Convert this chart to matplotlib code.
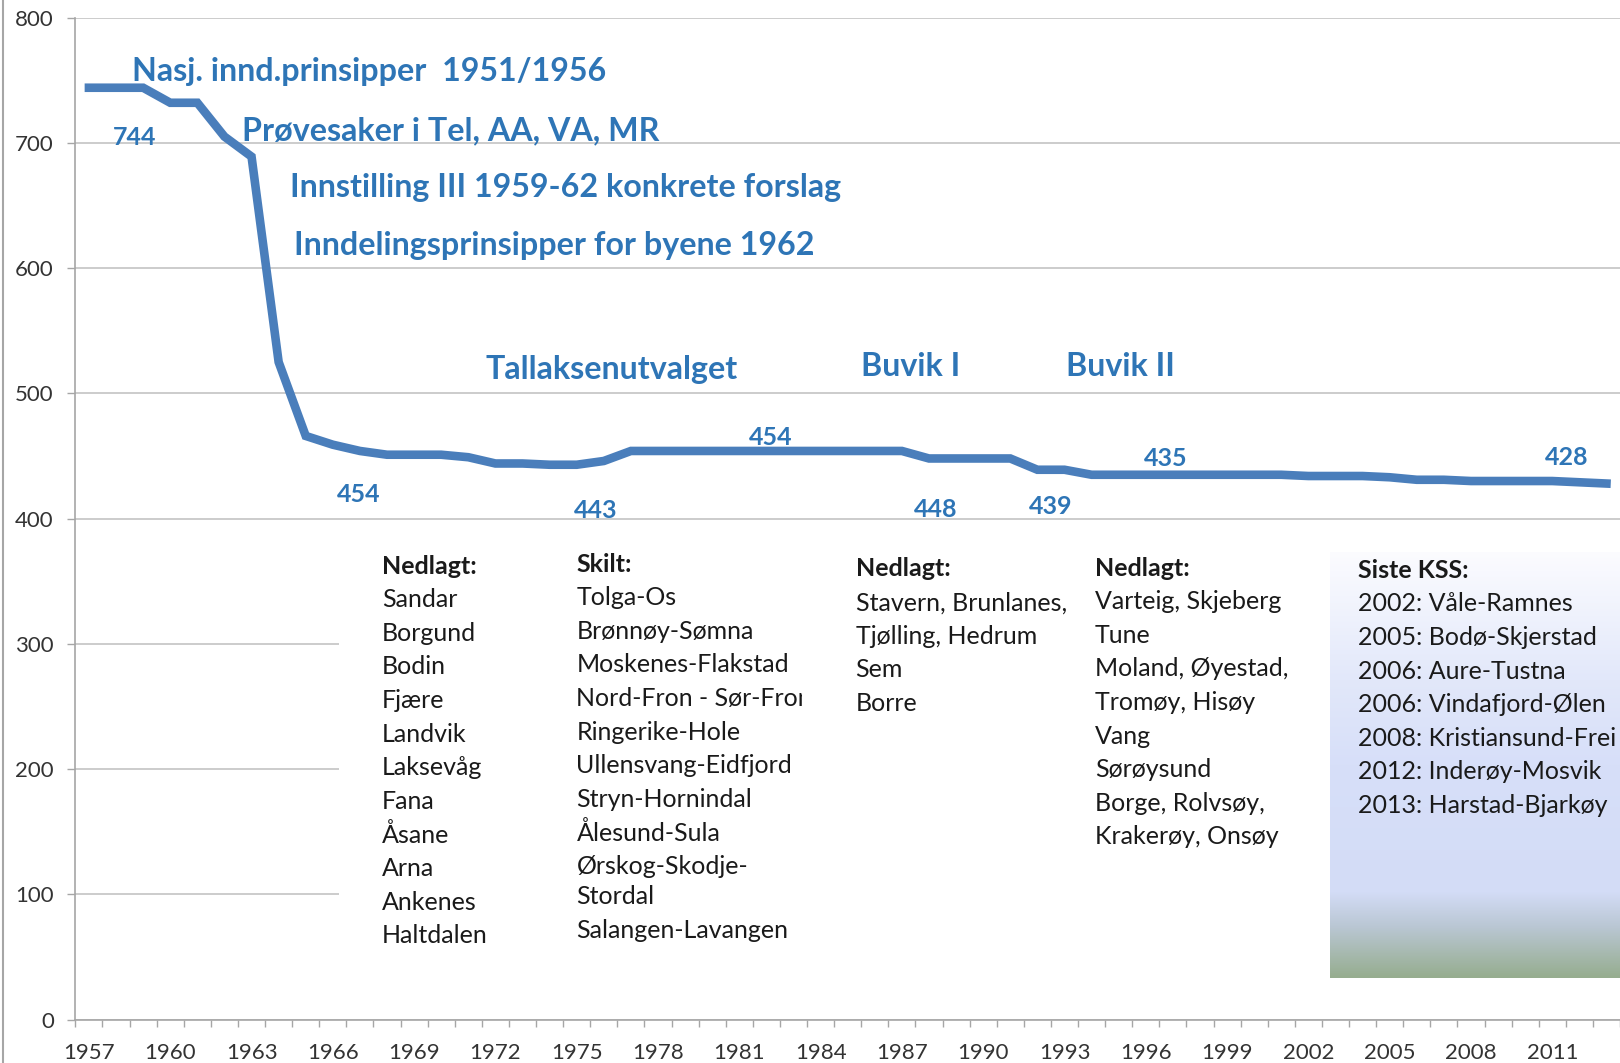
import numpy as np
import matplotlib
matplotlib.use("Agg")
import matplotlib.pyplot as plt
from matplotlib.patches import Rectangle
from matplotlib.lines import Line2D
from matplotlib.colors import LinearSegmentedColormap
from matplotlib.transforms import Bbox, TransformedBbox

# number of municipalities per year
years = list(range(1957, 2014))
counts = [744, 744, 744, 732, 732, 705, 689, 525, 466, 459,
          454, 451, 451, 451, 449, 444, 444, 443, 443, 446,
          454, 454, 454, 454, 454, 454, 454, 454, 454, 454,
          454, 448, 448, 448, 448, 439, 439, 435, 435, 435,
          435, 435, 435, 435, 435, 434, 434, 434, 433, 431,
          431, 430, 430, 430, 430, 429, 428]

label_years = [1958, 1967, 1975, 1982, 1988, 1992, 1996, 2013]

headings = ["Nasj. innd.prinsipper  1951/1956",
            "Prøvesaker i Tel, AA, VA, MR",
            "Innstilling III 1959-62 konkrete forslag",
            "Inndelingsprinsipper for byene 1962",
            "Tallaksenutvalget",
            "Buvik I",
            "Buvik II"]

block1 = ["Nedlagt:", "Sandar", "Borgund", "Bodin", "Fjære", "Landvik", "Laksevåg",
          "Fana", "Åsane", "Arna", "Ankenes", "Haltdalen"]
block2 = ["Skilt:", "Tolga-Os", "Brønnøy-Sømna", "Moskenes-Flakstad", "Nord-Fron - Sør-Fron",
          "Ringerike-Hole", "Ullensvang-Eidfjord", "Stryn-Hornindal", "Ålesund-Sula",
          "Ørskog-Skodje-", "Stordal", "Salangen-Lavangen"]
block3 = ["Nedlagt:", "Stavern, Brunlanes,", "Tjølling, Hedrum", "Sem", "Borre"]
block4 = ["Nedlagt:", "Varteig, Skjeberg", "Tune", "Moland, Øyestad,", "Tromøy, Hisøy",
          "Vang", "Sørøysund", "Borge, Rolvsøy,", "Krakerøy, Onsøy"]
block5 = ["Siste KSS:", "2002: Våle-Ramnes", "2005: Bodø-Skjerstad", "2006: Aure-Tustna",
          "2006: Vindafjord-Ølen", "2008: Kristiansund-Frei", "2012: Inderøy-Mosvik",
          "2013: Harstad-Bjarkøy"]

W, H = 1620, 1063
plt.rcParams['font.family'] = ['Lato', 'DejaVu Sans']

def fx(px):
    return px / W

def fy(py):
    return 1 - py / H

linecolor = "#4a7ebb"
textblue = "#2e75b6"
gridcolor = "#c4c4c4"

fig = plt.figure(figsize=(W / 100, H / 100), dpi=100)
ax = fig.add_axes([fx(75.4), fy(1019.6), fx(W - 75.4), (1019.6 - 17.6) / H])

ax.plot(years, counts, color=linecolor, linewidth=6.2, solid_joinstyle='miter', zorder=3)
ax.set_xlim(1956.5, 2013.0)
ax.set_ylim(0, 800)

ax.set_yticks(np.arange(0, 801, 100))
ax.set_xticks(years[::3])
ax.set_xticks(np.arange(1956.5, 2014, 1), minor=True)
ax.tick_params(axis='x', which='major', length=0, pad=17, labelsize=16, labelcolor='#333333')
ax.tick_params(axis='x', which='minor', length=5, width=1, color='#a6a6a6', direction='out')
ax.tick_params(axis='y', length=5.5, width=1, color='#a6a6a6', pad=10, labelsize=16,
               labelcolor='#333333')
ax.yaxis.grid(True, color=gridcolor, linewidth=1.2)
ax.set_axisbelow(True)
for s in ['top', 'right']:
    ax.spines[s].set_visible(False)
for s in ['left', 'bottom']:
    ax.spines[s].set_color('#a6a6a6')
    ax.spines[s].set_linewidth(1.2)

# data labels
label_offsets = [(13.4, -35.5), (-1.1, -31), (13.4, -32.6), (3.2, 9.4),
                 (4.8, -36.4), (9.6, -26.1), (14.2, 11.4), (-28.8, 18.7)]
for yr, off in zip(label_years, label_offsets):
    v = counts[years.index(yr)]
    ax.annotate(str(v), xy=(yr, v), xytext=off, textcoords='offset points',
                ha='center', va='center', fontsize=18, fontweight='bold',
                color=textblue, annotation_clip=False, zorder=4)

# border on the left
fig.add_artist(Line2D([fx(3), fx(3)], [0, 1], color='#a6a6a6', linewidth=1.5))

# white text area hiding gridlines
fig.add_artist(Rectangle((fx(339), fy(962)), fx(W - 339), (962 - 542) / H,
                         facecolor='white', edgecolor='none', zorder=1))

# gradient box
gx = fig.add_axes([fx(1330), fy(978), fx(W - 1330), (978 - 551.7) / H], zorder=2)
cmap = LinearSegmentedColormap.from_list(
    'kss', [(0.0, '#fcfcff'), (0.3, '#e2e8fa'), (0.5, '#d7dff9'), (0.8, '#d3dcf6'),
            (0.88, '#bac7d4'), (1.0, '#96ad8f')])
gx.imshow(np.linspace(0, 1, 256).reshape(-1, 1), cmap=cmap, aspect='auto',
          extent=[0, 1, 0, 1])
gx.axis('off')

# headings
head_pos = [(132, 71), (242, 131), (290, 188), (294.5, 246), (485.6, 369), (861, 366), (1066, 367)]
for txt, (px, py) in zip(headings, head_pos):
    fig.text(fx(px), fy(py), txt, ha='left', va='center', fontsize=23.2,
             fontweight='bold', color=textblue)

# black text blocks
clip = TransformedBbox(Bbox([[0, 0], [fx(802), 1]]), fig.transFigure)
blocks = [(block1, 382, 566), (block2, 576.5, 564), (block3, 855.5, 569),
          (block4, 1095, 568), (block5, 1357.6, 570.3)]
step = 33.6
for lines, px, py in blocks:
    y = py
    for i, s in enumerate(lines):
        t = fig.text(fx(px), fy(y), s, ha='left', va='center', fontsize=18,
                     color='#1a1a1a', fontweight='bold' if i == 0 else 'normal', zorder=5)
        if lines is block2:
            t.set_clip_box(clip)
            t.set_clip_on(True)
        if s == "Ørskog-Skodje-":
            y += 30
        else:
            y += step

fig.savefig("out.png", dpi=100)
